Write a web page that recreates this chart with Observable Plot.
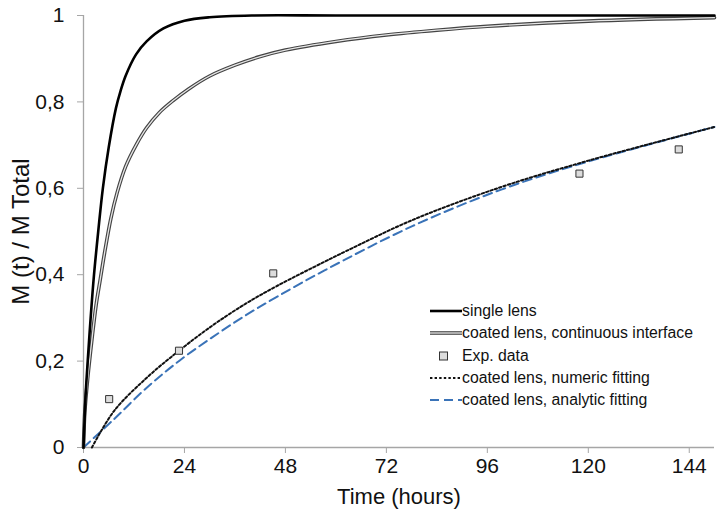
<!DOCTYPE html>
<html>
<head>
<meta charset="utf-8">
<script src="https://cdn.jsdelivr.net/npm/d3@7"></script>
<script src="https://cdn.jsdelivr.net/npm/@observablehq/plot@0.6"></script>
<style>
  html, body { margin: 0; padding: 0; background: #fff; }
  #wrap { position: relative; width: 720px; height: 520px; }
  #legend { position: absolute; left: 428px; top: 300px; font-family: "Liberation Sans", Arial, sans-serif; font-size: 15.8px; color: #111; }
  #legend .row { display: flex; align-items: center; height: 22.3px; }
  #legend svg { width: 34px; height: 12px; }
</style>
</head>
<body>
<div id="wrap"></div>
<script>
// ---- data ----
const singleT = [0, 0.5, 1, 1.7, 2.5, 3.5, 4.6, 6, 7.7, 8.8, 10, 12.5, 15, 19, 24, 30, 40, 60, 100, 150];
const singleM = [0, 0.12, 0.2, 0.3, 0.4, 0.5, 0.6, 0.695, 0.785, 0.825, 0.86, 0.91, 0.94, 0.97, 0.988, 0.996, 1, 1, 1, 1];

const contT = [0, 0.3, 1, 2, 3, 4, 5, 6.5, 8, 10, 12.5, 15, 18, 21.3, 25, 30, 36, 42, 48, 60, 72, 84, 96, 120, 150];
const contM = [0, 0.08, 0.16, 0.25, 0.33, 0.39, 0.45, 0.53, 0.59, 0.65, 0.70, 0.74, 0.775, 0.803, 0.83, 0.86, 0.885, 0.905, 0.92, 0.94, 0.955, 0.966, 0.975, 0.987, 0.995];

const expT = [6.1, 22.7, 45.1, 117.9, 141.5];
const expM = [0.112, 0.224, 0.403, 0.634, 0.690];

const numT = [2, 7.3, 15.1, 22.7, 30.6, 38.4, 46.2, 57.3, 62.5, 78.3, 99.3, 120, 150];
const numM = [0, 0.085, 0.162, 0.224, 0.282, 0.332, 0.375, 0.43, 0.455, 0.527, 0.603, 0.664, 0.742];

const anaT = [0, 7.3, 15.1, 22.8, 30.6, 38.4, 46.2, 57.3, 78.3, 99.3, 120, 150];
const anaM = [0, 0.066, 0.139, 0.201, 0.255, 0.305, 0.35, 0.41, 0.513, 0.597, 0.662, 0.742];

const xTicks = [0, 24, 48, 72, 96, 120, 144];
const yTicks = [0, 0.2, 0.4, 0.6, 0.8, 1];

const legendLabels = ["single lens", "coated lens, continuous interface", "Exp. data", "coated lens, numeric fitting", "coated lens, analytic fitting"];

const zip = (T, M) => T.map((t, i) => ({t, m: M[i]}));
const single = zip(singleT, singleM);
const cont = zip(contT, contM);
const exp = zip(expT, expM);
const num = zip(numT, numM);
const ana = zip(anaT, anaM);

const axisGray = "#a6a6a6";
const blue = "#3a73b8";
const fmt = d => String(+d.toFixed(1)).replace(".", ",");
const font = "'Liberation Sans Narrow', 'Arial Narrow', 'Liberation Sans', Arial, sans-serif";

const chart = Plot.plot({
  width: 720,
  height: 520,
  marginLeft: 83,
  marginRight: 6,
  marginTop: 15,
  marginBottom: 73,
  style: {fontFamily: font, fontSize: "22px", color: "#111", background: "#fff"},
  x: {domain: [0, 150], ticks: xTicks, label: null},
  y: {domain: [0, 1], ticks: yTicks, label: null},
  marks: [
    Plot.axisX({ticks: xTicks, tickSize: 6, tickPadding: 5, stroke: axisGray, color: "#111", fontSize: 21, label: null}),
    Plot.axisX({ticks: [], label: "Time (hours)", labelAnchor: "center", labelArrow: "none", labelOffset: 56, fontSize: 22, color: "#111"}),
    Plot.axisY({ticks: yTicks, tickSize: 6, tickPadding: 13, stroke: axisGray, color: "#111", fontSize: 21, tickFormat: fmt, label: null}),
    Plot.axisY({ticks: [], label: "M (t) / M Total", labelAnchor: "center", labelArrow: "none", labelOffset: 72, fontSize: 24, color: "#111"}),
    Plot.ruleY([0], {stroke: axisGray, strokeWidth: 1.3}),
    Plot.ruleX([0], {stroke: axisGray, strokeWidth: 1.3}),
    Plot.line(ana, {x: "t", y: "m", stroke: blue, strokeWidth: 2, strokeDasharray: "9,5", curve: "catmull-rom"}),
    Plot.line(num, {x: "t", y: "m", stroke: "#111", strokeWidth: 2, strokeDasharray: "2.4,2.2", curve: "catmull-rom"}),
    Plot.line(cont, {x: "t", y: "m", stroke: "#444", strokeWidth: 3.6, curve: "catmull-rom"}),
    Plot.line(cont, {x: "t", y: "m", stroke: "#e6e6e6", strokeWidth: 1.3, curve: "catmull-rom"}),
    Plot.line(single, {x: "t", y: "m", stroke: "#000", strokeWidth: 2.6, curve: "catmull-rom"}),
    Plot.dot(exp, {x: "t", y: "m", symbol: "square", r: 4, fill: "#dcdcdc", stroke: "#333", strokeWidth: 1})
  ]
});
const wrap = document.getElementById("wrap");
wrap.appendChild(chart);

// legend overlay
const samples = [
  '<line x1="2" x2="34" y1="6" y2="6" stroke="#000" stroke-width="2.6"/>',
  '<line x1="2" x2="34" y1="6" y2="6" stroke="#444" stroke-width="3.6"/><line x1="2" x2="34" y1="6" y2="6" stroke="#e6e6e6" stroke-width="1.3"/>',
  '<rect x="11.5" y="2" width="8" height="8" fill="#dcdcdc" stroke="#333" stroke-width="1"/>',
  '<line x1="2" x2="34" y1="6" y2="6" stroke="#111" stroke-width="2" stroke-dasharray="2.4,2.2"/>',
  '<line x1="2" x2="34" y1="6" y2="6" stroke="' + blue + '" stroke-width="2" stroke-dasharray="9,5"/>'
];
const legend = document.createElement("div");
legend.id = "legend";
legend.innerHTML = legendLabels.map((l, i) => `<div class="row"><svg viewBox="0 0 34 12">${samples[i]}</svg><span>${l}</span></div>`).join("");
wrap.appendChild(legend);
</script>
</body>
</html>
